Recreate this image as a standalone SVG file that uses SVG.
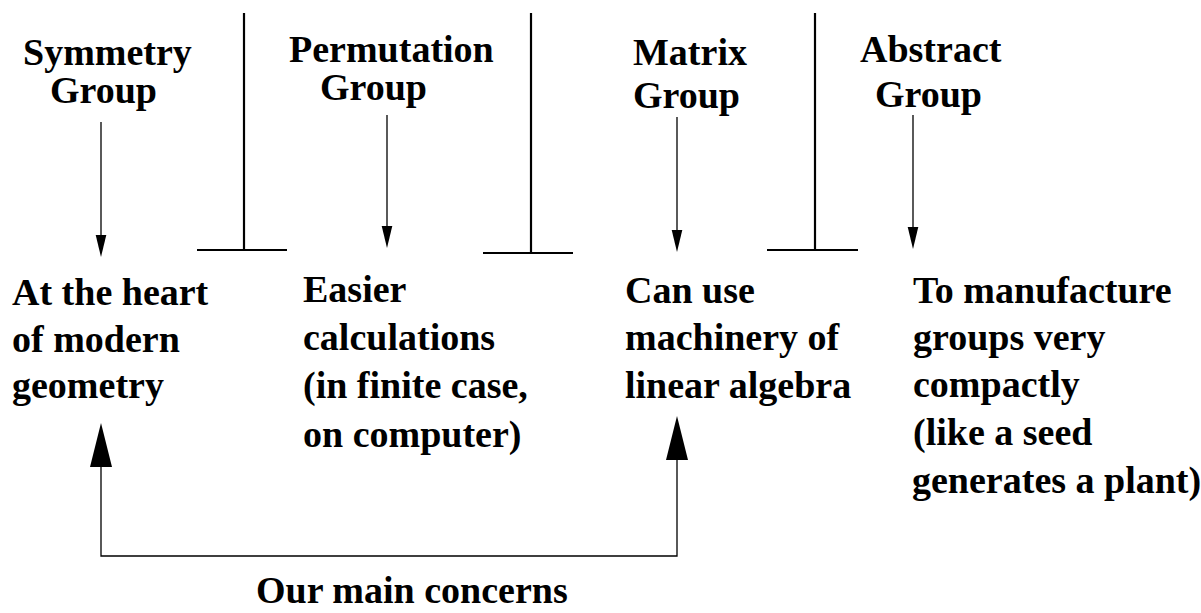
<svg xmlns="http://www.w3.org/2000/svg" width="1201" height="613" viewBox="0 0 1201 613">
  <style>
    text { font-family: "Liberation Serif", "Times New Roman", serif; font-weight: bold; font-size: 38px; fill: #000; }
    .bar { stroke: #000; stroke-width: 2.2; fill: none; }
    .thin { stroke: #000; stroke-width: 1.3; fill: none; }
    .head { fill: #000; stroke: none; }
  </style>
  <defs>
    <polygon id="smallHead" class="head" points="-5.3,-22 5.3,-22 0,0"/>
    <polygon id="bigHead" class="head" points="-11,44 11,44 0,0"/>
  </defs>

  <g id="symmetry-group">
    <text x="23" y="65">Symmetry</text>
    <text x="50" y="103">Group</text>
  </g>
  <g id="permutation-group">
    <text x="289" y="62">Permutation</text>
    <text x="320" y="100">Group</text>
  </g>
  <g id="matrix-group">
    <text x="633" y="65">Matrix</text>
    <text x="633" y="108">Group</text>
  </g>
  <g id="abstract-group">
    <text x="860" y="62">Abstract</text>
    <text x="875" y="107">Group</text>
  </g>

  <g id="symmetry-desc">
    <text x="12" y="305">At the heart</text>
    <text x="12" y="352">of modern</text>
    <text x="12" y="398">geometry</text>
  </g>
  <g id="permutation-desc">
    <text x="303" y="302">Easier</text>
    <text x="303" y="350">calculations</text>
    <text x="303" y="398">(in finite case,</text>
    <text x="303" y="447">on computer)</text>
  </g>
  <g id="matrix-desc">
    <text x="625" y="303">Can use</text>
    <text x="625" y="350">machinery of</text>
    <text x="625" y="398">linear algebra</text>
  </g>
  <g id="abstract-desc">
    <text x="913" y="303">To manufacture</text>
    <text x="913" y="350">groups very</text>
    <text x="913" y="397">compactly</text>
    <text x="913" y="445">(like a seed</text>
    <text x="912" y="493">generates a plant)</text>
  </g>
  <g id="main-concerns">
    <text x="256" y="603">Our main concerns</text>
  </g>

  <g id="separators">
    <line class="bar" x1="244" y1="13" x2="244" y2="250"/>
    <line class="bar" x1="197" y1="250" x2="287" y2="250"/>
    <line class="bar" x1="531" y1="13" x2="531" y2="253"/>
    <line class="bar" x1="483" y1="253" x2="573" y2="253"/>
    <line class="bar" x1="815" y1="13" x2="815" y2="250"/>
    <line class="bar" x1="767" y1="250" x2="858" y2="250"/>
  </g>

  <g id="connectors">
    <line class="thin" x1="101" y1="122" x2="101" y2="240"/>
    <use href="#smallHead" x="101" y="257"/>
    <line class="thin" x1="387" y1="115" x2="387" y2="231"/>
    <use href="#smallHead" x="387" y="248"/>
    <line class="thin" x1="677" y1="117" x2="677" y2="235"/>
    <use href="#smallHead" x="677" y="252"/>
    <line class="thin" x1="913" y1="115" x2="913" y2="232"/>
    <use href="#smallHead" x="913" y="249"/>

    <path class="thin" d="M101,465 V556 H677 V457"/>
    <use href="#bigHead" x="101" y="423"/>
    <use href="#bigHead" x="677" y="416"/>
  </g>
</svg>
